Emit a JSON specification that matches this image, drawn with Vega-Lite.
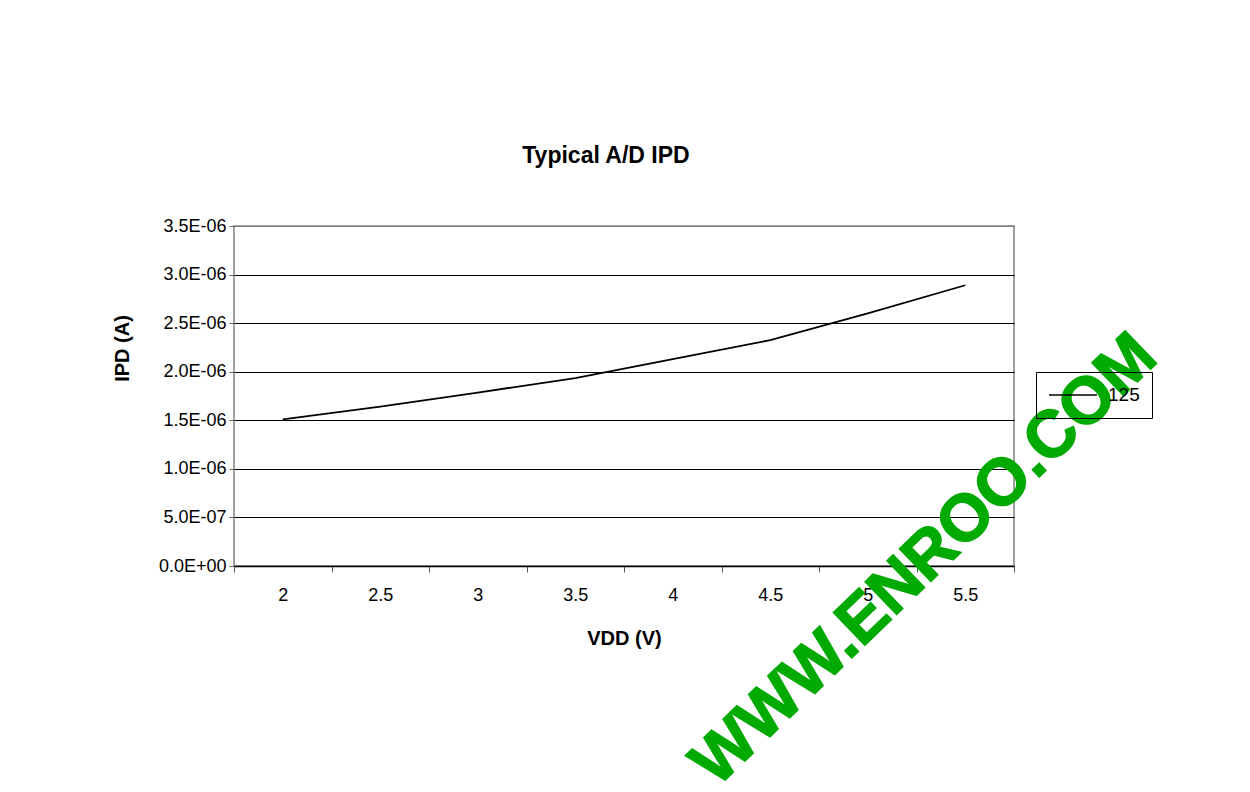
{
  "$schema": "https://vega.github.io/schema/vega-lite/v6.json",
  "width": 780,
  "height": 340,
  "autosize": "none",
  "padding": {"left": 234, "top": 226, "right": 236, "bottom": 226},
  "background": "white",
  "title": {
    "text": "Typical A/D IPD",
    "font": "Liberation Sans",
    "fontSize": 23,
    "fontWeight": "bold",
    "color": "black",
    "anchor": "middle",
    "offset": 49,
    "dx": -18
  },
  "config": {
    "font": "Liberation Sans",
    "view": {"stroke": "#808080", "strokeWidth": 1.5}
  },
  "layer": [
    {
      "data": {
        "values": [
          {"vdd": "2", "ipd": 1.51e-6, "series": "125"},
          {"vdd": "2.5", "ipd": 1.64e-6, "series": "125"},
          {"vdd": "3", "ipd": 1.785e-6, "series": "125"},
          {"vdd": "3.5", "ipd": 1.935e-6, "series": "125"},
          {"vdd": "4", "ipd": 2.13e-6, "series": "125"},
          {"vdd": "4.5", "ipd": 2.325e-6, "series": "125"},
          {"vdd": "5", "ipd": 2.6e-6, "series": "125"},
          {"vdd": "5.5", "ipd": 2.89e-6, "series": "125"}
        ]
      },
      "mark": {"type": "line", "strokeWidth": 1.8},
      "encoding": {
        "x": {
          "field": "vdd",
          "type": "ordinal",
          "sort": null,
          "scale": {"type": "band", "paddingInner": 0, "paddingOuter": 0},
          "axis": {
            "title": "VDD (V)",
            "titleFontSize": 20,
            "titleFontWeight": "bold",
            "titleColor": "black",
            "titlePadding": 24,
            "labelAngle": 0,
            "labelFontSize": 18,
            "labelColor": "black",
            "labelPadding": 14,
            "tickBand": "extent",
            "tickSize": 6,
            "tickColor": "#555555",
            "domainColor": "black",
            "domainWidth": 1.5,
            "grid": false
          }
        },
        "y": {
          "field": "ipd",
          "type": "quantitative",
          "scale": {"domain": [0, 3.5e-6], "nice": false, "zero": true},
          "axis": {
            "values": [0, 5e-7, 1e-6, 1.5e-6, 2e-6, 2.5e-6, 3e-6, 3.5e-6],
            "labelExpr": "replace(replace(format(datum.value, '.1e'), 'e-', 'E-0'), 'e+', 'E+0')",
            "title": "IPD (A)",
            "titleFontSize": 20,
            "titleFontWeight": "bold",
            "titleColor": "black",
            "titleAlign": "center",
            "titleBaseline": "middle",
            "titleAngle": -90,
            "titleX": -112,
            "titleY": 122,
            "labelFontSize": 18,
            "labelColor": "black",
            "labelPadding": 3,
            "tickSize": 5,
            "tickColor": "#666666",
            "domain": false,
            "grid": true,
            "gridColor": {"condition": {"test": "datum.value >= 3.4e-6", "value": "#808080"}, "value": "black"},
            "gridWidth": 1.2,
            "gridOpacity": 1
          }
        },
        "stroke": {
          "field": "series",
          "type": "nominal",
          "scale": {"range": ["black"]},
          "legend": {
            "orient": "none",
            "legendX": 802,
            "legendY": 146,
            "title": null,
            "strokeColor": "black",
            "fillColor": "transparent",
            "padding": 12,
            "clipHeight": 22,
            "symbolType": "stroke",
            "symbolSize": 2300,
            "symbolStrokeWidth": 1.6,
            "symbolStrokeColor": "black",
            "labelFontSize": 19,
            "labelColor": "black",
            "labelOffset": 10
          }
        }
      }
    },
    {
      "data": {"values": [{"t": "WWW.ENROO.COM"}]},
      "mark": {
        "type": "text",
        "angle": -44,
        "font": "Liberation Sans",
        "fontSize": 66,
        "fontWeight": "bold",
        "color": "#00aa00",
        "stroke": "#00aa00",
        "strokeWidth": 1.5,
        "align": "center",
        "baseline": "alphabetic",
        "dx": 45,
        "dy": 55,
        "clip": false
      },
      "encoding": {
        "x": {"datum": "5"},
        "y": {"datum": 0},
        "text": {"field": "t"}
      }
    }
  ]
}
